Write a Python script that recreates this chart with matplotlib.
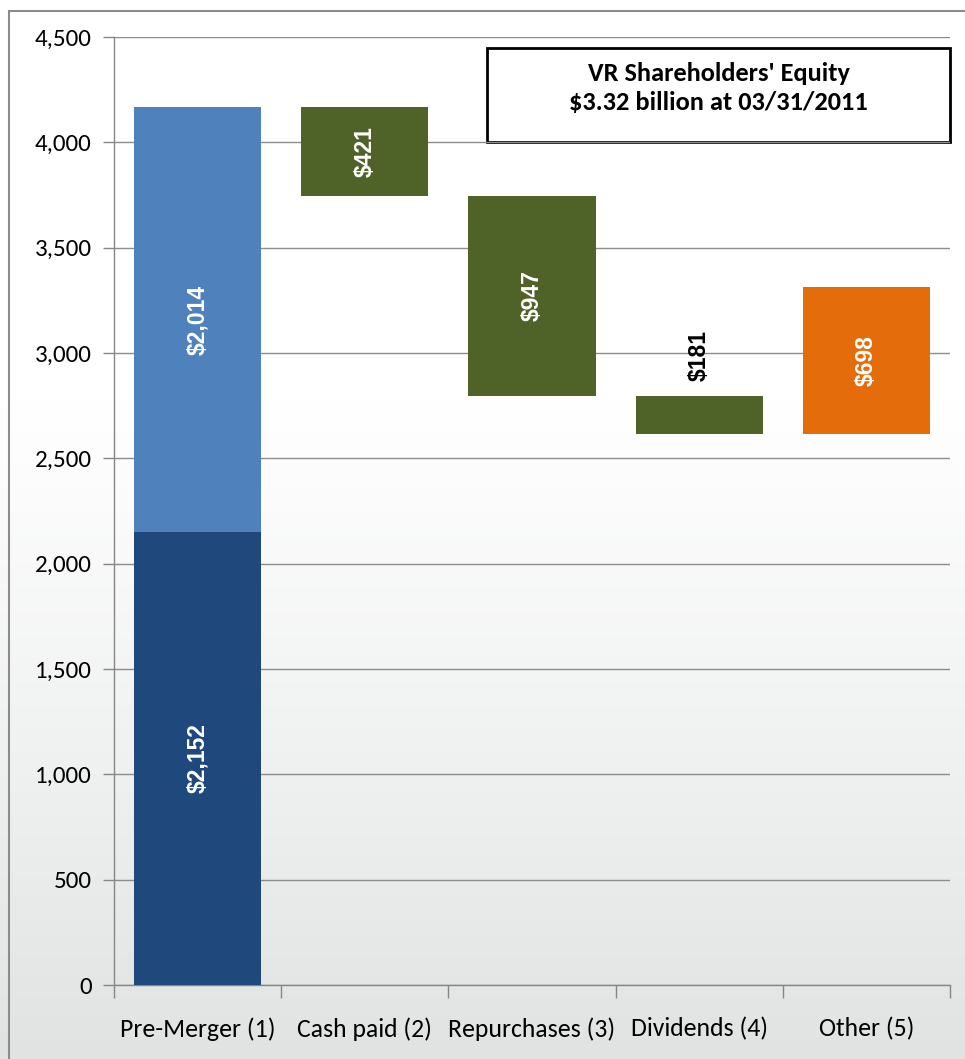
import matplotlib
matplotlib.use("Agg")
import matplotlib.pyplot as plt
import numpy as np
from matplotlib.patches import Rectangle

categories = ["Pre-Merger (1)", "Cash paid (2)", "Repurchases (3)", "Dividends (4)", "Other (5)"]
pre_merger_parts = [2152, 2014]
changes = [-421, -947, -181, 698]
labels = ["$2,152", "$2,014", "$421", "$947", "$181", "$698"]
yticks = [0, 500, 1000, 1500, 2000, 2500, 3000, 3500, 4000, 4500]
box_text = "VR Shareholders' Equity\n$3.32 billion at 03/31/2011"

W, H = 965, 1059
fig = plt.figure(figsize=(W / 100, H / 100), dpi=100)

# background gradient
bg = fig.add_axes([0, 0, 1, 1], zorder=-10)
t = np.linspace(0, 1, 256)  # 0 bottom -> 1 top
shade = np.clip((0.62 - t) / 0.62, 0, 1) ** 1.1
top_c = np.array([1.0, 1.0, 1.0])
bot_c = np.array([0xE1, 0xE3, 0xE3]) / 255
img = top_c[None, :] * (1 - shade[:, None]) + bot_c[None, :] * shade[:, None]
bg.imshow(img[:, None, :], aspect="auto", origin="lower", extent=[0, 1, 0, 1])
bg.set_xlim(0, 1); bg.set_ylim(0, 1)
bg.axis("off")
bg.add_patch(Rectangle((9 / W, -0.01), 1.0, 1 - 11 / H + 0.01, fill=False,
                       edgecolor="#8C8C8C", linewidth=1.5, transform=bg.transAxes))

ax = fig.add_axes([114 / W, (H - 985) / H, (950 - 114) / W, (985 - 37) / H])
ax.set_facecolor("none")

label_font = ["Carlito", "DejaVu Sans"]
val_font = ["Liberation Sans", "DejaVu Sans"]
vsize = 16.5

x = np.arange(len(categories))
bw = 0.76
# Pre-merger stacked
ax.bar(x[0], pre_merger_parts[0], bw, bottom=0, color="#1F497D", zorder=3)
ax.bar(x[0], pre_merger_parts[1], bw, bottom=pre_merger_parts[0], color="#4F81BD", zorder=3)
ax.text(x[0], pre_merger_parts[0] / 2, labels[0], rotation=90, ha="center", va="center",
        color="white", fontsize=vsize, fontweight="bold", family=val_font, zorder=4)
ax.text(x[0], pre_merger_parts[0] + pre_merger_parts[1] / 2, labels[1], rotation=90,
        ha="center", va="center", color="white", fontsize=vsize, fontweight="bold",
        family=val_font, zorder=4)

level = sum(pre_merger_parts)
colors = ["#4F6228", "#4F6228", "#4F6228", "#E46C0A"]
for i, ch in enumerate(changes):
    xi = x[i + 1]
    lo = min(level, level + ch)
    ax.bar(xi, abs(ch), bw, bottom=lo, color=colors[i], zorder=3)
    if abs(ch) < 300:
        ax.text(xi, lo + abs(ch) + 70, labels[i + 2], rotation=90, ha="center", va="bottom",
                color="black", fontsize=vsize, fontweight="bold", family=val_font, zorder=4)
    else:
        ax.text(xi, lo + abs(ch) / 2, labels[i + 2], rotation=90, ha="center", va="center",
                color="white", fontsize=vsize, fontweight="bold", family=val_font, zorder=4)
    level += ch

ax.set_xlim(-0.5, len(categories) - 0.5)
ax.set_ylim(0, 4500)
ax.set_yticks(yticks)
ax.set_yticklabels([f"{v:,}" for v in yticks], fontsize=18, family=label_font)
ax.set_xticks(x)
ax.set_xticklabels(categories, fontsize=18.5, family=label_font)
ax.tick_params(axis="x", length=0, pad=23)
ax.set_xticks(np.arange(len(categories) + 1) - 0.5, minor=True)
ax.tick_params(axis="x", which="minor", length=9, color="#868686", width=1)
ax.tick_params(axis="y", length=8, color="#868686", width=1, pad=8)
ax.grid(axis="y", color="#8C8C8C", linewidth=1, zorder=0)
ax.set_axisbelow(True)
for s in ["top", "right"]:
    ax.spines[s].set_visible(False)
for s in ["left", "bottom"]:
    ax.spines[s].set_color("#868686")
    ax.spines[s].set_linewidth(1)

# title box
bg.add_patch(Rectangle((487 / W, 1 - 142 / H), (950 - 487) / W, (142 - 48) / H,
                       facecolor="white", edgecolor="black", linewidth=2,
                       transform=bg.transAxes, zorder=5))
bg.text((487 + 950) / 2 / W, 1 - 88 / H, box_text, ha="center", va="center",
        fontsize=19, fontweight="bold", family=label_font, linespacing=1.32,
        transform=bg.transAxes, zorder=6)

fig.savefig("out.png", dpi=100)
